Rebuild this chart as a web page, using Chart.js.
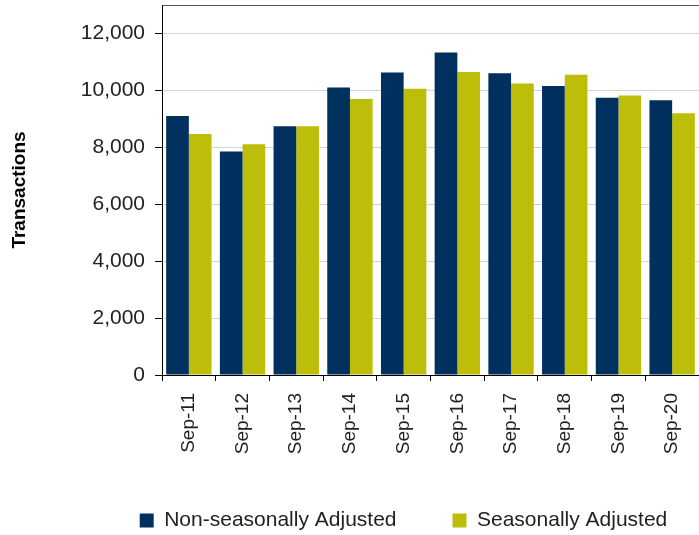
<!DOCTYPE html>
<html>
<head>
<meta charset="utf-8">
<script src="https://cdn.jsdelivr.net/npm/chart.js@4/dist/chart.umd.min.js"></script>
<style>
  html, body { margin: 0; padding: 0; background: #fff; }
  #wrap { width: 699px; height: 535px; }
</style>
</head>
<body>
<div id="wrap"><canvas id="txChart" width="699" height="535"></canvas></div>
<script>
// Chart data
const categories = ['Sep-11', 'Sep-12', 'Sep-13', 'Sep-14', 'Sep-15', 'Sep-16', 'Sep-17', 'Sep-18', 'Sep-19', 'Sep-20'];
const nonSeasonal = [9100, 7850, 8740, 10100, 10630, 11330, 10600, 10150, 9740, 9650];
const seasonal = [8470, 8110, 8740, 9700, 10060, 10650, 10240, 10550, 9820, 9200];
const yTicks = [0, 2000, 4000, 6000, 8000, 10000, 12000];
const yMax = 13000;

const FONT = "'Liberation Sans', Arial, sans-serif";

// nudge the legend row to sit where the original has it,
// and let the rotated x labels run past the axis box without being clipped
const layoutTweaks = {
    id: 'layoutTweaks',
    afterLayout(chart) {
        const lg = chart.legend;
        lg.left += 54;
        lg.right += 54;
        lg.top += 6;
        lg.bottom += 6;
        chart.scales.x.bottom += 15;
    }
};

function renderChart() {
    const ctx = document.getElementById('txChart').getContext('2d');

    new Chart(ctx, {
        type: 'bar',
        data: {
            labels: categories,
            datasets: [
                {
                    label: 'Non-seasonally Adjusted',
                    data: nonSeasonal,
                    backgroundColor: '#00305E',
                    borderWidth: 0
                },
                {
                    label: 'Seasonally Adjusted',
                    data: seasonal,
                    backgroundColor: '#BDBE0A',
                    borderWidth: 0
                }
            ]
        },
        options: {
            responsive: false,
            animation: false,
            layout: { padding: { top: 5, left: 0, right: 0, bottom: 0 } },
            datasets: {
                bar: { categoryPercentage: 0.845, barPercentage: 1.0 }
            },
            scales: {
                x: {
                    offset: true,
                    grid: {
                        offset: true,
                        drawOnChartArea: false,
                        tickLength: 6,
                        tickColor: '#000'
                    },
                    border: { color: '#000', width: 1 },
                    ticks: {
                        minRotation: 90,
                        maxRotation: 90,
                        padding: 12,
                        color: '#222',
                        font: { family: FONT, size: 19 }
                    },
                    afterFit(scale) {
                        scale.height = 73;
                        scale.paddingLeft = 0;
                        scale.paddingRight = 0;
                    }
                },
                y: {
                    min: 0,
                    max: yMax,
                    afterBuildTicks(scale) {
                        scale.ticks = yTicks.concat([yMax]).map(v => ({ value: v }));
                    },
                    grid: {
                        color: (c) => c.tick && c.tick.value === yMax ? '#555' : '#D4D4D4',
                        tickColor: (c) => c.tick && c.tick.value === yMax ? 'rgba(0,0,0,0)' : '#000',
                        tickLength: 7
                    },
                    border: { color: '#000', width: 1 },
                    ticks: {
                        padding: 10,
                        color: '#222',
                        font: { family: FONT, size: 21 },
                        callback: (v) => v === yMax ? '' : v.toLocaleString('en-US')
                    },
                    title: {
                        display: true,
                        text: 'Transactions',
                        color: '#000',
                        padding: { top: 8, bottom: 0 },
                        font: { family: FONT, size: 19, weight: 'bold' }
                    },
                    afterFit(scale) {
                        scale.width = 162;
                        scale.paddingTop = 0;
                        scale.paddingBottom = 0;
                    }
                }
            },
            plugins: {
                legend: {
                    position: 'bottom',
                    labels: {
                        boxWidth: 14,
                        boxHeight: 14,
                        padding: 56,
                        color: '#222',
                        font: { family: FONT, size: 21 }
                    }
                },
                tooltip: { enabled: false }
            }
        },
        plugins: [layoutTweaks]
    });
}

document.addEventListener('DOMContentLoaded', renderChart);
</script>
</body>
</html>
